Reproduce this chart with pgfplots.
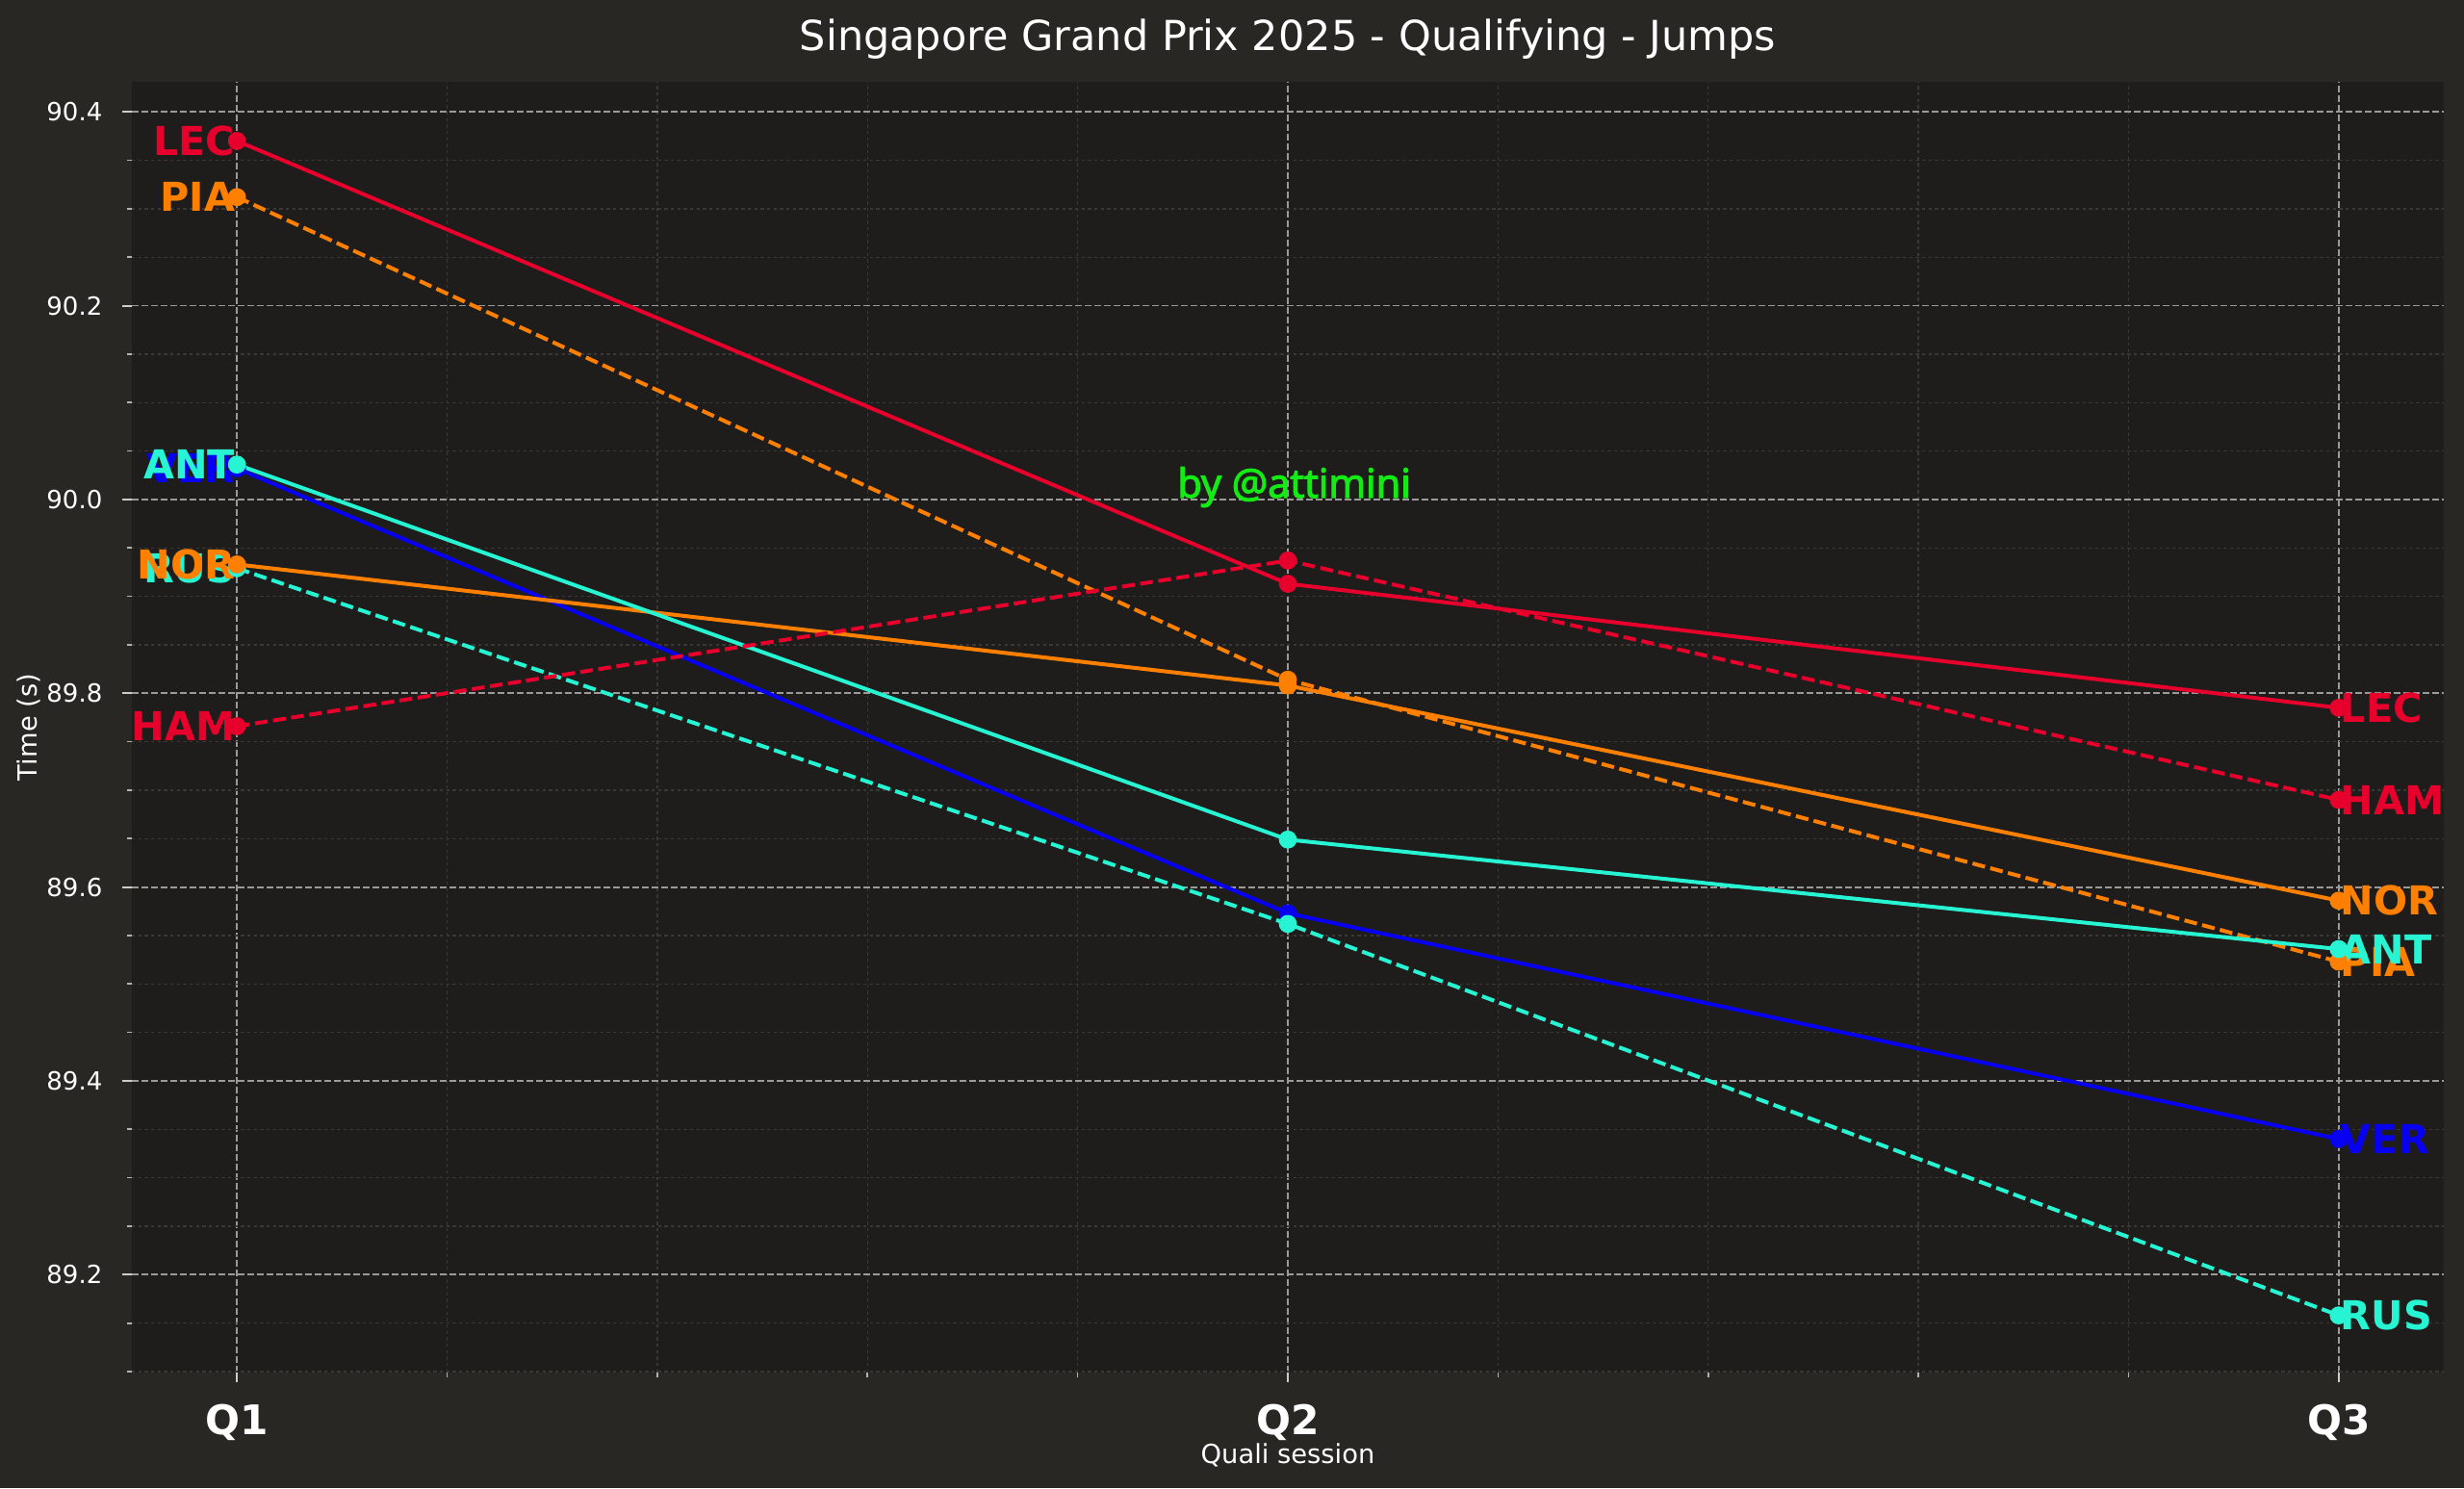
\documentclass[border=0pt]{standalone}
\usepackage{fontspec}
\setmainfont{DejaVu Sans}
\newfontfamily\wmfont{Open Sans}[FakeBold=3]
\usepackage{pgfplots}
\pgfplotsset{compat=1.18}
\definecolor{figbg}{HTML}{292724}
\definecolor{axbg}{HTML}{1E1D1B}
\definecolor{gridc}{HTML}{9A9A9A}
\definecolor{minorc}{HTML}{3A3835}
\definecolor{fred}{HTML}{E8002D}
\definecolor{forange}{HTML}{FF8000}
\definecolor{fteal}{HTML}{27F4D2}
\definecolor{fblue}{HTML}{0800F0}
\definecolor{wmgreen}{HTML}{14EB14}
\newcommand{\lbl}{\fontsize{12.4pt}{12.4pt}\selectfont\bfseries}
\begin{document}
\begin{tikzpicture}
\fill[figbg] (-41.1pt,-36pt) rectangle (726.9pt,427.8pt);
\begin{axis}[
  at={(0,0)}, anchor=south west,
  scale only axis, width=720.6pt, height=402.3pt,
  xmin=-0.1, xmax=2.1, ymin=89.099, ymax=90.431,
  axis background/.style={fill=axbg},
  axis line style={draw=none},
  xtick={0,1,2}, xticklabels={Q1,Q2,Q3},
  minor xtick={0.2,0.4,0.6,0.8,1.2,1.4,1.6,1.8},
  ytick={89.2,89.4,89.6,89.8,90.0,90.2,90.4},
  minor ytick={89.1,89.15,89.25,89.3,89.35,89.45,89.5,89.55,89.65,89.7,89.75,89.85,89.9,89.95,90.05,90.1,90.15,90.25,90.3,90.35},
  /pgf/number format/fixed, /pgf/number format/fixed zerofill, /pgf/number format/precision=1, /pgf/number format/assume math mode=true,
  yticklabel style={anchor=east, inner sep=0pt, xshift=-6pt, font=\fontsize{7.8pt}{7.8pt}\selectfont, text=white},
  xticklabel style={anchor=base, inner sep=0pt, yshift=-16.2pt, font=\fontsize{12.7pt}{12.7pt}\selectfont\bfseries, text=white},
  tick align=outside, tickpos=left,
  major tick length=3pt, minor tick length=1.6pt,
  every tick/.style={draw=white!80!black, line width=0.6pt},
  minor tick style={draw=white!70!black, line width=0.5pt},
  grid=both,
  major grid style={draw=gridc, line width=0.55pt, dash pattern=on 2.1pt off 0.9pt},
  minor grid style={draw=minorc, line width=0.4pt, dash pattern=on 1pt off 1pt},
  xlabel={Quali session}, ylabel={Time (s)},
  xlabel style={at={(axis description cs:0.5,0)}, anchor=base, yshift=-28.2pt, font=\fontsize{8.2pt}{8.2pt}\selectfont, text=white},
  ylabel style={at={(axis description cs:0,0.5)}, anchor=center, rotate=0, yshift=32.1pt, font=\fontsize{8.2pt}{8.2pt}\selectfont, text=white},
  every axis title shift=0pt,
  title={Singapore Grand Prix 2025 - Qualifying - Jumps},
  title style={at={(axis description cs:0.5,1)}, anchor=base, yshift=9.6pt, font=\fontsize{12.9pt}{12.9pt}\selectfont, text=white},
  every axis plot/.append style={line width=1.2pt, mark=*, mark size=2.2pt, mark options={solid}},
  clip=false,
]
\node[anchor=base, text=wmgreen, font=\wmfont\fontsize{12.5pt}{12.5pt}\selectfont] at (axis cs:1.006,90.002) {by @attimini};
% VER
\addplot[fblue] coordinates {(0,90.032) (1,89.573) (2,89.340)}
  node[pos=0, anchor=east, inner sep=0pt, text=fblue, font=\lbl]{VER}
  node[pos=1, anchor=west, inner sep=0pt, text=fblue, font=\lbl]{VER};
% RUS
\addplot[fteal, dash pattern=on 4pt off 1.7pt] coordinates {(0,89.929) (1,89.562) (2,89.158)}
  node[pos=0, anchor=east, inner sep=0pt, text=fteal, font=\lbl]{RUS}
  node[pos=1, anchor=west, inner sep=0pt, text=fteal, font=\lbl]{RUS};
% PIA
\addplot[forange, dash pattern=on 4pt off 1.7pt] coordinates {(0,90.312) (1,89.814) (2,89.523)}
  node[pos=0, anchor=east, inner sep=0pt, text=forange, font=\lbl]{PIA}
  node[pos=1, anchor=west, inner sep=0pt, text=forange, font=\lbl]{PIA};
% NOR
\addplot[forange] coordinates {(0,89.933) (1,89.808) (2,89.586)}
  node[pos=0, anchor=east, inner sep=0pt, text=forange, font=\lbl]{NOR}
  node[pos=1, anchor=west, inner sep=0pt, text=forange, font=\lbl]{NOR};
% ANT
\addplot[fteal] coordinates {(0,90.036) (1,89.649) (2,89.536)}
  node[pos=0, anchor=east, inner sep=0pt, text=fteal, font=\lbl]{ANT}
  node[pos=1, anchor=west, inner sep=0pt, text=fteal, font=\lbl]{ANT};
% HAM
\addplot[fred, dash pattern=on 4pt off 1.7pt] coordinates {(0,89.766) (1,89.937) (2,89.690)}
  node[pos=0, anchor=east, inner sep=0pt, text=fred, font=\lbl]{HAM}
  node[pos=1, anchor=west, inner sep=0pt, text=fred, font=\lbl]{HAM};
% LEC
\addplot[fred] coordinates {(0,90.370) (1,89.913) (2,89.785)}
  node[pos=0, anchor=east, inner sep=0pt, text=fred, font=\lbl]{LEC}
  node[pos=1, anchor=west, inner sep=0pt, text=fred, font=\lbl]{LEC};
\end{axis}
\pgfresetboundingbox
\path[use as bounding box] (-41.1pt,-36pt) rectangle (726.9pt,427.8pt);
\end{tikzpicture}
\end{document}
